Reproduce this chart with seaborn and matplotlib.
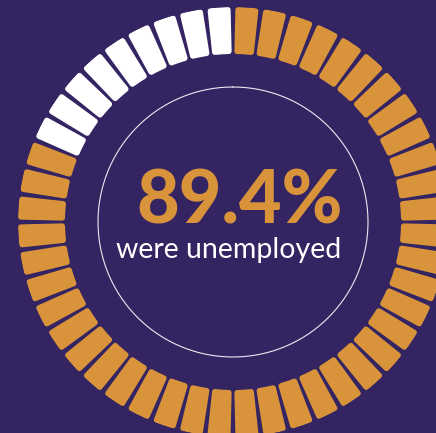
import numpy as np
import matplotlib.pyplot as plt
import seaborn as sns

# ============ DATA ============
segment_groups = ["unemployed", "other"]
segment_counts = [39, 9]
headline = "89.4%"
caption = "were unemployed"

# ============ STYLE ============
BG = "#342462"
ORANGE = "#d9943b"
WHITE = "#ffffff"
sns.set_theme(style="white")
plt.rcParams['font.family'] = ['Lato', 'DejaVu Sans']
group_colors = dict(zip(segment_groups, sns.color_palette([ORANGE, WHITE])))

W, H, DPI = 436, 433, 100
fig = plt.figure(figsize=(W / DPI, H / DPI), dpi=DPI, facecolor=BG)

# polar axes laid out in pixels: centre (233, 222), outer radius 215
cx, cy, R = 233, 222, 215
ax = fig.add_axes([(cx - R) / W, (H - cy - R) / H, 2 * R / W, 2 * R / H],
                  projection='polar')
ax.set_facecolor('none')
ax.set_theta_zero_location('N')
ax.set_theta_direction(-1)
ax.set_ylim(0, R)

# ============ RING OF SEGMENTS ============
colors = []
for g, n in zip(segment_groups, segment_counts):
    colors += [group_colors[g]] * n
n_seg = len(colors)
step = 2 * np.pi / n_seg
theta = (np.arange(n_seg) + 0.5) * step

edge_px = 5.6
edge_pt = edge_px * 72 / DPI
inner, outer = 168, 215
ax.bar(theta, outer - inner - edge_px, width=0.082,
       bottom=inner + edge_px / 2, color=colors, edgecolor=colors,
       linewidth=edge_pt, joinstyle='round', align='center')

# thin inner circle
t = np.linspace(0, 2 * np.pi, 400)
ax.plot(t, np.full_like(t, 135), color=WHITE, lw=0.8, alpha=0.9)

ax.grid(False)
ax.set_xticks([])
ax.set_yticks([])
ax.spines['polar'].set_visible(False)

# ============ TEXT ============
fig.text(240 / W, (H - 224) / H, headline, ha='center', va='baseline',
         color=ORANGE, fontsize=53, fontweight='black')
fig.text(229 / W, (H - 258) / H, caption, ha='center', va='baseline',
         color=WHITE, fontsize=20.5)

fig.savefig('out.png', dpi=DPI, facecolor=BG)
